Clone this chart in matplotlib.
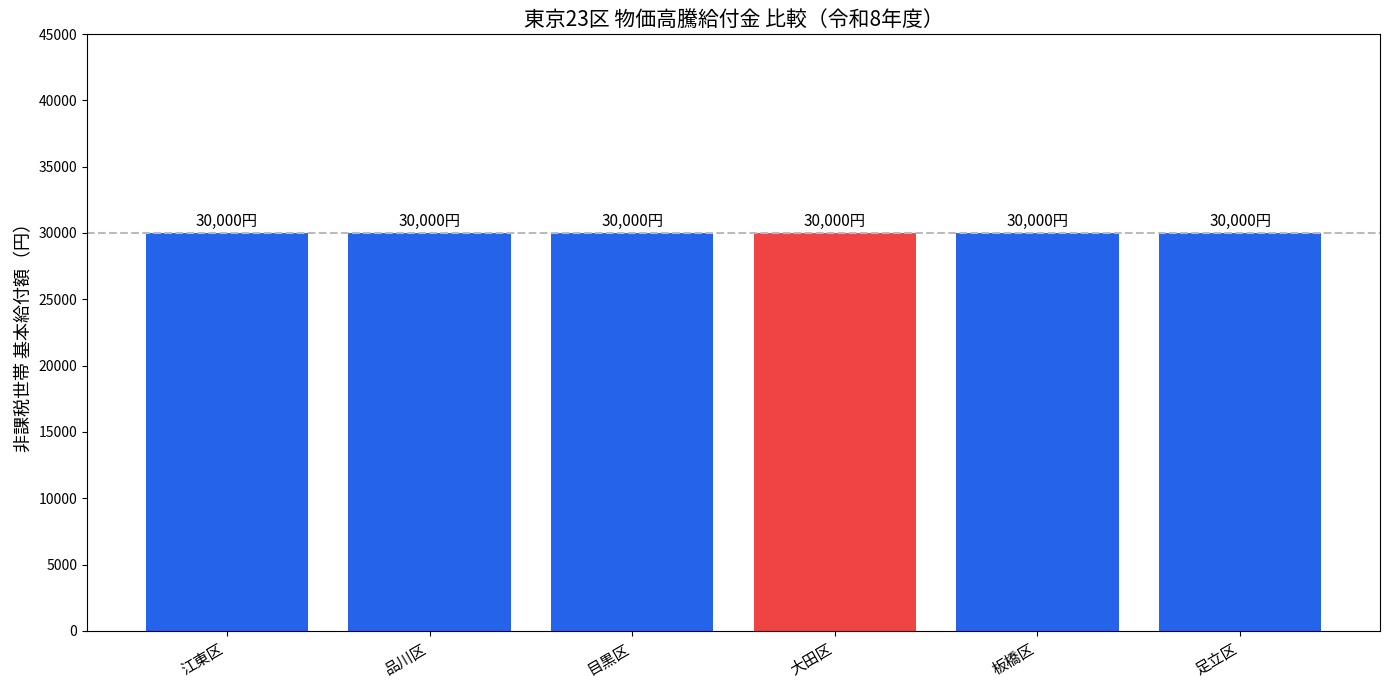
import matplotlib
matplotlib.use("Agg")
import matplotlib.pyplot as plt

plt.rcParams['font.family'] = ['Noto Sans CJK JP', 'DejaVu Sans']

wards = ["江東区", "品川区", "目黒区", "大田区", "板橋区", "足立区"]
amounts = [30000, 30000, 30000, 30000, 30000, 30000]
highlight = "大田区"

colors = ["#ef4444" if w == highlight else "#2563eb" for w in wards]

fig = plt.figure(figsize=(13.89, 6.9), dpi=100)
ax = fig.add_axes([87/1389, 1-631/690, (1380-87)/1389, (631-34)/690])
bars = ax.bar(wards, amounts, color=colors, width=0.8)
ax.axhline(30000, color="#bbbbbb", linestyle="--", linewidth=1.5)
for b, v in zip(bars, amounts):
    ax.text(b.get_x()+b.get_width()/2, v+200, f"{v:,}円", ha="center", va="bottom", fontsize=11)
ax.set_ylim(0, 45000)
ax.set_yticks(range(0, 45001, 5000))
ax.set_ylabel("非課税世帯 基本給付額（円）", fontsize=13)
ax.set_title("東京23区 物価高騰給付金 比較（令和8年度）", fontsize=15)
plt.setp(ax.get_xticklabels(), rotation=30, ha="right", fontsize=11)
fig.savefig("out.png", dpi=100)
